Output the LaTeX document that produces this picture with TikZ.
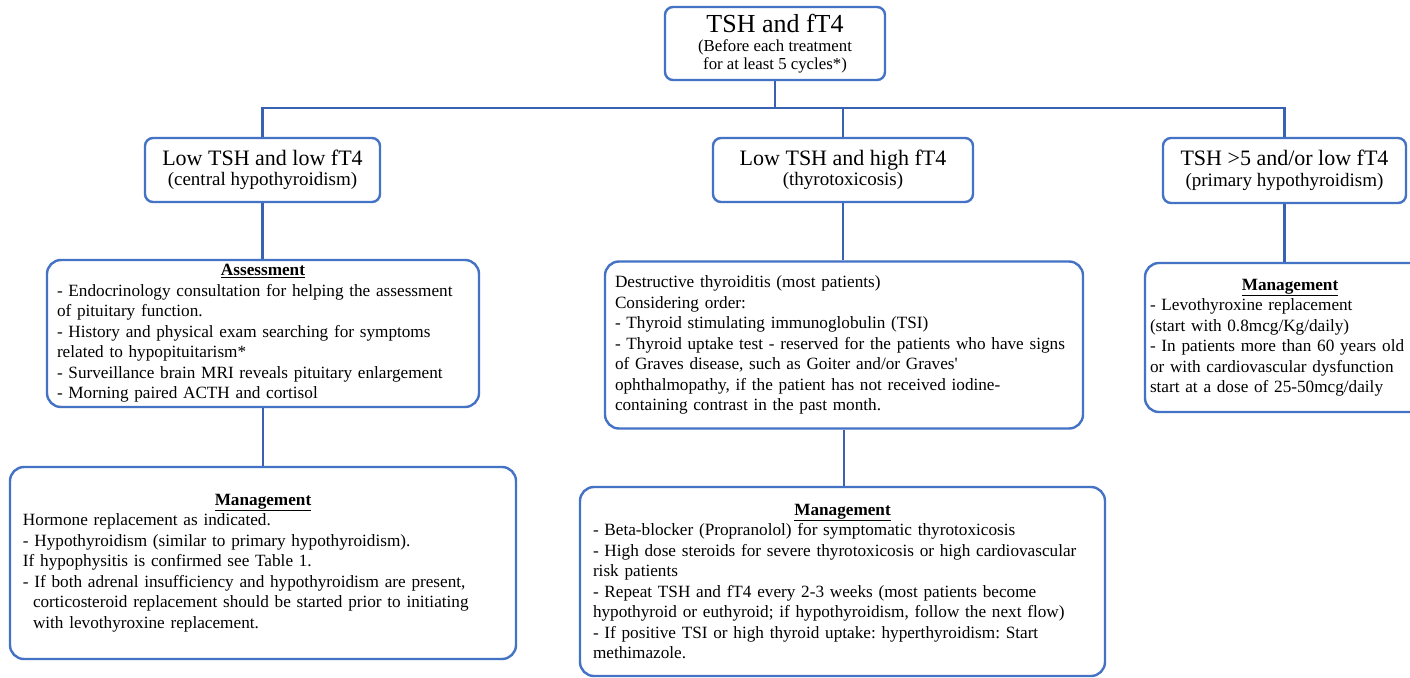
\documentclass[tikz,border=0pt]{standalone}
\usepackage{fontspec}
\setmainfont{Liberation Serif}
\frenchspacing
\definecolor{boxblue}{RGB}{68,114,196}
\definecolor{linkblue}{RGB}{58,98,178}
\newcommand{\tophead}{\fontsize{26}{27}\selectfont}
\newcommand{\bighead}{\fontsize{22}{22}\selectfont}
\newcommand{\subhead}{\fontsize{19}{19}\selectfont}
\newcommand{\smallhead}{\fontsize{16.8}{17}\selectfont}
\newcommand{\bodytxt}{\fontsize{17.2}{20.5}\selectfont}
\newcommand{\boxtitle}[1]{\makebox[\linewidth]{\underline{\textbf{#1}}}}

\begin{document}
\begin{tikzpicture}[x=1pt,y=-1pt,
    headbox/.style={draw=boxblue,line width=2.4pt,rounded corners=8pt,fill=white,align=center,inner sep=0pt,font=\fontsize{19}{20.5}\selectfont},
    infobox/.style={draw=boxblue,line width=2.4pt,rounded corners=14pt,fill=white,align=left,inner ysep=0pt,font=\bodytxt},
    link/.style={draw=linkblue,line width=2.4pt}]
 	\useasboundingbox (0,0) rectangle (1410,677);
	\fill[white] (0,0) rectangle (1410,677);

	% first row
	\node[headbox,font=\fontsize{17}{17.5}\selectfont,minimum width=220pt,minimum height=73pt] (tsh) at (775,43.5)
	  {\tophead TSH and fT4\\[1.5pt] \smallhead (Before each treatment\\ \smallhead for at least 5 cycles*)};

	% second row
	\node[headbox,minimum width=235pt,minimum height=64pt] (lowA) at (262.5,170)
	  {\bighead Low TSH and low fT4\\ \subhead (central hypothyroidism)};
	\node[headbox,minimum width=260pt,minimum height=64pt] (lowB) at (843,170)
	  {\bighead Low TSH and high fT4\\ \subhead (thyrotoxicosis)};
	\node[headbox,minimum width=243pt,minimum height=65pt] (lowC) at (1284.5,170.5)
	  {\bighead TSH >5 and/or low fT4\\ \subhead (primary hypothyroidism)};

	% third row
	\node[infobox,inner xsep=10pt,text width=412pt,minimum height=147pt] (assess) at (263,333.5)
	  {\boxtitle{Assessment}\\
	   - Endocrinology consultation for helping the assessment\\
	   of pituitary function.\\
	   - History and physical exam searching for symptoms\\
	   related to hypopituitarism*\\
	   - Surveillance brain MRI reveals pituitary enlargement\\
	   - Morning paired ACTH and cortisol};
	\node[infobox,inner xsep=10pt,text width=458pt,minimum height=167pt] (destr) at (844,345)
	  {Destructive thyroiditis (most patients)\\
	   Considering order:\\
	   - Thyroid stimulating immunoglobulin (TSI)\\
	   - Thyroid uptake test - reserved for the patients who have signs\\
	   of Graves disease, such as Goiter and/or Graves\textquotesingle\\
	   ophthalmopathy, if the patient has not received iodine-\\
	   containing contrast in the past month.};
	\node[infobox,inner xsep=5pt,text width=280pt,minimum height=149pt] (manC) at (1290,337.5)
	  {\boxtitle{Management}\\
	   - Levothyroxine replacement\\
	   (start with 0.8mcg/Kg/daily)\\
	   - In patients more than 60 years old\\
	   or with cardiovascular dysfunction\\
	   start at a dose of 25-50mcg/daily};

	% fourth row
	\node[infobox,inner xsep=13pt,text width=480pt,minimum height=192pt] (manA) at (263,563)
	  {\boxtitle{Management}\\
	   Hormone replacement as indicated.\\
	   - Hypothyroidism (similar to primary hypothyroidism).\\
	   If hypophysitis is confirmed see Table 1.\\
	   - If both adrenal insufficiency and hypothyroidism are present,\\
	   \hspace*{10pt}corticosteroid replacement should be started prior to initiating\\
	   \hspace*{10pt}with levothyroxine replacement.};
	\node[infobox,inner xsep=13pt,text width=499pt,minimum height=189pt] (manB) at (842.5,581.5)
	  {\boxtitle{Management}\\
	   - Beta-blocker (Propranolol) for symptomatic thyrotoxicosis\\
	   - High dose steroids for severe thyrotoxicosis or high cardiovascular\\
	   risk patients\\
	   - Repeat TSH and fT4 every 2-3 weeks (most patients become\\
	   hypothyroid or euthyroid; if hypothyroidism, follow the next flow)\\
	   - If positive TSI or high thyroid uptake: hyperthyroidism: Start\\
	   methimazole.};

	% connectors
	\coordinate (bus) at (775,108);
	\draw[link] (tsh.south) -- (bus);
	\draw[link] (lowA.north) |- (bus) -| (lowC.north);
	\draw[link] (lowB.north |- bus) -- (lowB.north);
	\draw[link] (lowA.south) -- (lowA.south |- assess.north);
	\draw[link] (assess.south) -- (assess.south |- manA.north);
	\draw[link] (lowB.south) -- (lowB.south |- destr.north);
	\draw[link] (destr.south) -- (destr.south |- manB.north);
	\draw[link] (lowC.south) -- (lowC.south |- manC.north);
\end{tikzpicture}
\end{document}
